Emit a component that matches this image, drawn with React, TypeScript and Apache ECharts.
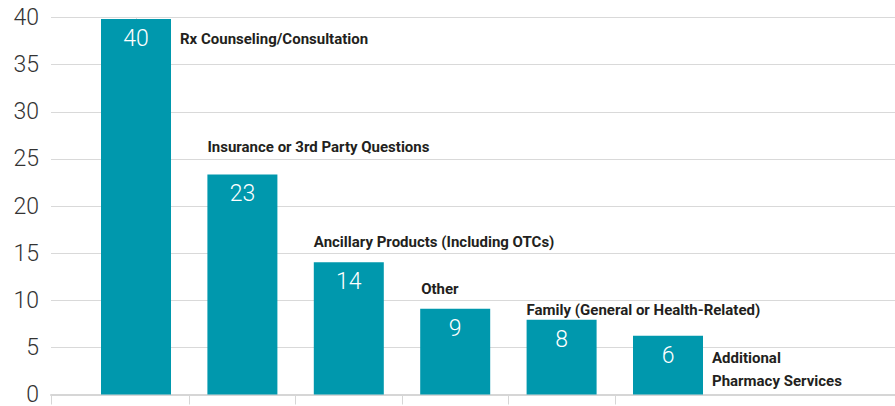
import React, { useEffect, useRef } from "react";
import * as echarts from "echarts";

const categories = [
  "Rx Counseling/Consultation",
  "Insurance or 3rd Party Questions",
  "Ancillary Products (Including OTCs)",
  "Other",
  "Family (General or Health-Related)",
  "Additional\nPharmacy Services",
];
const values = [39.85, 23.36, 14.03, 9.09, 7.93, 6.24];
const valueLabels = ["40", "23", "14", "9", "8", "6"];
const yTicks = [0, 5, 10, 15, 20, 25, 30, 35, 40];

// label placement relative to each bar's top-left corner (style only)
const labelPlacement: [number, number][] = [
  [79, 20],
  [0, -27],
  [0, -20],
  [1, -20],
  [0, -10],
  [79, 34],
];

const NUM_FONT = "Roboto, 'DejaVu Sans Condensed', sans-serif";
const LBL_FONT = "Roboto, 'DejaVu Sans Condensed', sans-serif";
const BAR = "#0098ad";

export default function App() {
  const ref = useRef<HTMLDivElement>(null);
  useEffect(() => {
    if (!ref.current) return;
    const chart = echarts.init(ref.current, undefined, { renderer: "svg" });
    const step = 106.4;
    const left = 51;
    const firstCenter = 136;
    const xMin = -(firstCenter - left) / step;
    const xMax = (895 - firstCenter) / step;
    chart.setOption({
      animation: false,
      grid: { left, right: 0, top: 17.6, bottom: 10, containLabel: false },
      xAxis: {
        type: "value",
        min: xMin,
        max: xMax,
        axisLine: { show: true, onZero: false, lineStyle: { color: "#d6d6d6", width: 2 } },
        axisTick: {
          show: true,
          length: 10,
          lineStyle: { color: "#d6d6d6", width: 1 },
          customValues: [xMin, ...categories.slice(0, -1).map((_, i) => i + 0.5)],
        },
        axisLabel: { show: false },
        splitLine: { show: false },
      },
      yAxis: {
        type: "value",
        min: 0,
        max: yTicks[yTicks.length - 1],
        interval: 5,
        axisLine: { show: true, lineStyle: { color: "#dcdcdc", width: 1 } },
        axisTick: { show: false },
        splitLine: { show: true, lineStyle: { color: "#d9d9d9", width: 1 } },
        axisLabel: {
          color: "#333",
          fontSize: 23,
          fontWeight: 300,
          fontFamily: NUM_FONT,
          margin: 12,
        },
      },
      series: [
        {
          type: "bar",
          barWidth: 70,
          itemStyle: { color: BAR },
          data: values.map((v, i) => [i, v]),
          label: {
            show: true,
            position: "insideTop",
            distance: 8,
            color: "#fff",
            fontSize: 23,
            fontWeight: 300,
            fontFamily: NUM_FONT,
            formatter: (p: any) => valueLabels[p.dataIndex],
          },
          z: 2,
        },
        {
          type: "bar",
          barWidth: 70,
          barGap: "-100%",
          silent: true,
          itemStyle: { color: "rgba(0,0,0,0)" },
          data: values.map((v, i) => ({
            value: [i, v],
            label: {
              show: true,
              position: labelPlacement[i],
              align: "left",
              verticalAlign: "middle",
              formatter: categories[i],
            },
          })),
          label: {
            color: "#231f20",
            fontSize: 15,
            fontWeight: "bold",
            fontFamily: LBL_FONT,
            lineHeight: 23,
          },
          z: 3,
        },
      ],
    });
    return () => chart.dispose();
  }, []);
  return <div ref={ref} style={{ width: 895, height: 406, position: "absolute", left: 0, top: 0 }} />;
}
